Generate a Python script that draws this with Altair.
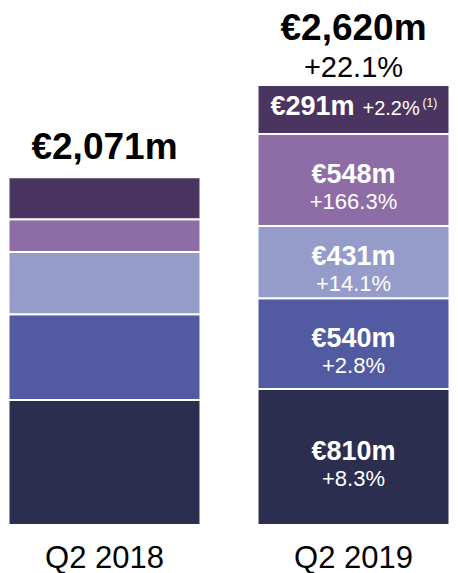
import altair as alt
import pandas as pd

periods = ["Q2 2018", "Q2 2019"]
segments = ["Segment 1", "Segment 2", "Segment 3", "Segment 4", "Segment 5"]  # bottom to top
values_2018 = [745, 510, 371, 195, 250]
values_2019 = [810, 540, 431, 548, 291]
value_labels_2019 = ["€810m", "€540m", "€431m", "€548m", "€291m"]
growth_labels_2019 = ["+8.3%", "+2.8%", "+14.1%", "+166.3%", "+2.2%"]
footnote_label = "(1)"
totals = [2071, 2620]
total_labels = ["€2,071m", "€2,620m"]
total_growth = ["", "+22.1%"]
colors = ["#2C2E50", "#525BA1", "#959CCA", "#8E6DA7", "#4A3560"]

FONT = "Liberation Sans"

rows = []
for period, vals in zip(periods, [values_2018, values_2019]):
    base = 0
    for i, (seg, v) in enumerate(zip(segments, vals)):
        rows.append({"period": period, "segment": seg, "order": i,
                     "y0": base, "y1": base + v, "mid": base + v / 2,
                     "vlabel": value_labels_2019[i] if period == "Q2 2019" else "",
                     "glabel": growth_labels_2019[i] if period == "Q2 2019" else "",
                     "foot": footnote_label if (period == "Q2 2019" and i == 4) else ""})
        base += v
df = pd.DataFrame(rows)
tot = pd.DataFrame({"period": periods, "total": totals, "tlabel": total_labels, "glabel": total_growth})

x = alt.X("period:N", sort=periods,
          scale=alt.Scale(paddingInner=0.229, paddingOuter=0.002),
          axis=alt.Axis(title=None, labelAngle=0, domain=False, ticks=False,
                        labelFontSize=31, labelColor="black", labelFont=FONT,
                        labelPadding=18))
yscale = alt.Scale(domain=[0, 3079], nice=False, zero=True)
Y = lambda f: alt.Y(f, scale=yscale, axis=None)

bars = alt.Chart(df).mark_bar(stroke="white", strokeWidth=2).encode(
    x=x,
    y=Y("y0:Q"),
    y2="y1:Q",
    color=alt.Color("segment:N", sort=segments,
                    scale=alt.Scale(domain=segments, range=colors), legend=None),
)

lower = df[(df.period == "Q2 2019") & (df.order < 4)]
top = df[(df.period == "Q2 2019") & (df.order == 4)]

val_text = alt.Chart(lower).mark_text(font=FONT, fontWeight="bold", fontSize=27,
                                      color="white", baseline="middle", dy=-5).encode(
    x=x, y=Y("mid:Q"), text="vlabel:N")
g_text = alt.Chart(lower).mark_text(font=FONT, fontSize=22, color="white",
                                    baseline="middle", dy=22).encode(
    x=x, y=Y("mid:Q"), text="glabel:N")

top_val = alt.Chart(top).mark_text(font=FONT, fontWeight="bold", fontSize=27, color="white",
                                   align="right", baseline="alphabetic", dx=1, dy=5).encode(
    x=x, y=Y("mid:Q"), text="vlabel:N")
top_g = alt.Chart(top).mark_text(font=FONT, fontSize=20, color="white",
                                 align="left", baseline="alphabetic", dx=9, dy=5).encode(
    x=x, y=Y("mid:Q"), text="glabel:N")
top_f = alt.Chart(top).mark_text(font=FONT, fontSize=12, color="white",
                                 align="left", baseline="alphabetic", dx=69, dy=-3).encode(
    x=x, y=Y("mid:Q"), text="foot:N")

tot_left = alt.Chart(tot[tot.period == "Q2 2018"]).mark_text(
    font=FONT, fontWeight="bold", fontSize=37, color="black", baseline="middle", dy=-29).encode(
    x=x, y=Y("total:Q"), text="tlabel:N")
tot_right = alt.Chart(tot[tot.period == "Q2 2019"]).mark_text(
    font=FONT, fontWeight="bold", fontSize=37, color="black", baseline="middle", dy=-56).encode(
    x=x, y=Y("total:Q"), text="tlabel:N")
tot_g = alt.Chart(tot).mark_text(font=FONT, fontSize=29, color="black",
                                 baseline="middle", dy=-17).encode(
    x=x, y=Y("total:Q"), text="glabel:N")

chart = alt.layer(bars, val_text, g_text, top_val, top_g, top_f, tot_left, tot_right, tot_g).properties(
    width=442, height=517,
    autosize=alt.AutoSizeParams(type="none"),
    padding={"left": 0, "top": 0, "right": 0, "bottom": 48},
    background="white",
).configure_view(stroke=None)

chart.save("out.html", embed_options={"renderer": "svg", "actions": False})
